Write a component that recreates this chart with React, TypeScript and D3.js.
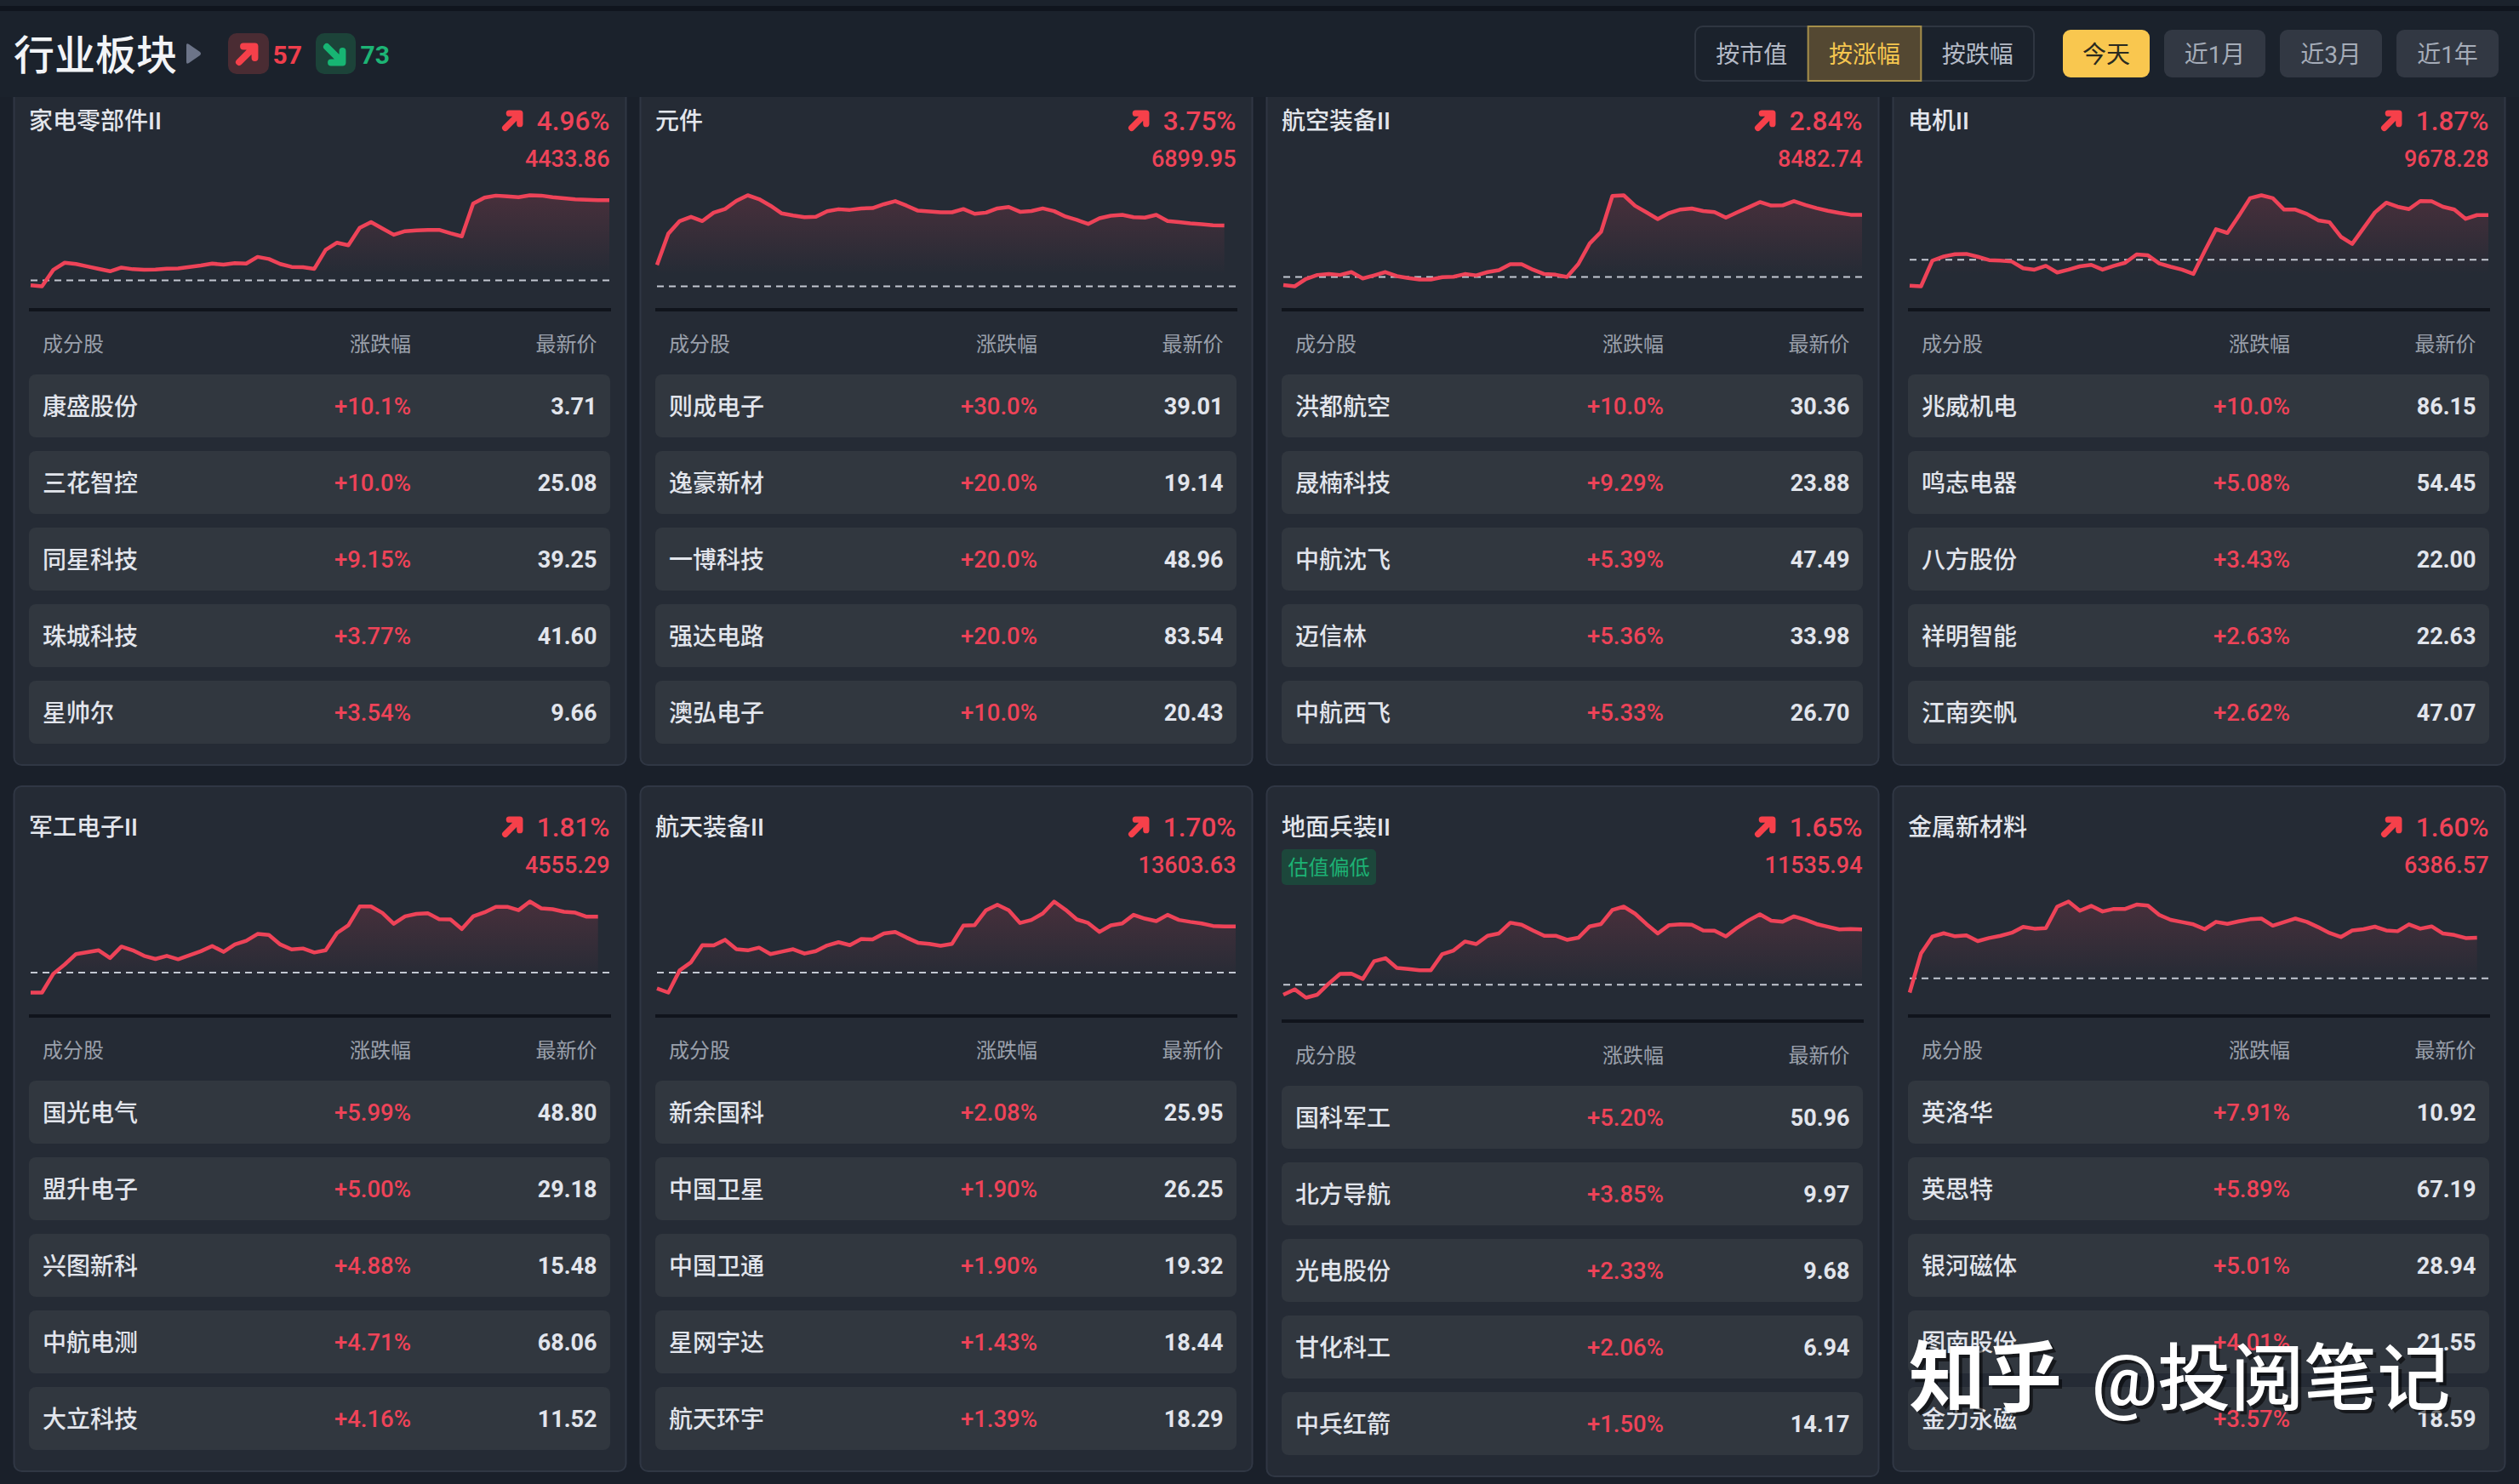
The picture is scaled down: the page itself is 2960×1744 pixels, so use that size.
import * as d3 from "d3";

const sectorNames = ["家电零部件II", "元件", "航空装备II", "电机II", "军工电子II", "航天装备II", "地面兵装II", "金属新材料"];
const sectorPcts = ["4.96%", "3.75%", "2.84%", "1.87%", "1.81%", "1.70%", "1.65%", "1.60%"];
const sectorLevels = ["4433.86", "6899.95", "8482.74", "9678.28", "4555.29", "13603.63", "11535.94", "6386.57"];
const sectorTags = ["", "", "", "", "", "", "估值偏低", ""];

const stockNames = [
  ["康盛股份", "三花智控", "同星科技", "珠城科技", "星帅尔"],
  ["则成电子", "逸豪新材", "一博科技", "强达电路", "澳弘电子"],
  ["洪都航空", "晟楠科技", "中航沈飞", "迈信林", "中航西飞"],
  ["兆威机电", "鸣志电器", "八方股份", "祥明智能", "江南奕帆"],
  ["国光电气", "盟升电子", "兴图新科", "中航电测", "大立科技"],
  ["新余国科", "中国卫星", "中国卫通", "星网宇达", "航天环宇"],
  ["国科军工", "北方导航", "光电股份", "甘化科工", "中兵红箭"],
  ["英洛华", "英思特", "银河磁体", "图南股份", "金力永磁"],
];
const stockPcts = [
  ["+10.1%", "+10.0%", "+9.15%", "+3.77%", "+3.54%"],
  ["+30.0%", "+20.0%", "+20.0%", "+20.0%", "+10.0%"],
  ["+10.0%", "+9.29%", "+5.39%", "+5.36%", "+5.33%"],
  ["+10.0%", "+5.08%", "+3.43%", "+2.63%", "+2.62%"],
  ["+5.99%", "+5.00%", "+4.88%", "+4.71%", "+4.16%"],
  ["+2.08%", "+1.90%", "+1.90%", "+1.43%", "+1.39%"],
  ["+5.20%", "+3.85%", "+2.33%", "+2.06%", "+1.50%"],
  ["+7.91%", "+5.89%", "+5.01%", "+4.01%", "+3.57%"],
];
const stockPrices = [
  ["3.71", "25.08", "39.25", "41.60", "9.66"],
  ["39.01", "19.14", "48.96", "83.54", "20.43"],
  ["30.36", "23.88", "47.49", "33.98", "26.70"],
  ["86.15", "54.45", "22.00", "22.63", "47.07"],
  ["48.80", "29.18", "15.48", "68.06", "11.52"],
  ["25.95", "26.25", "19.32", "18.44", "18.29"],
  ["50.96", "9.97", "9.68", "6.94", "14.17"],
  ["10.92", "67.19", "28.94", "21.55", "18.59"],
];

// intraday change in %
const intraday1 = [-0.30, -0.37, 0.65, 1.09, 1.01, 0.86, 0.71, 0.56, 0.79, 0.69, 0.65, 0.67, 0.72, 0.74, 0.83, 0.92, 1.04, 0.97, 1.06, 1.04, 1.45, 1.32, 1.01, 0.83, 0.81, 0.71, 1.89, 2.33, 2.17, 3.25, 3.60, 3.21, 2.82, 3.04, 3.09, 3.11, 3.12, 2.91, 2.72, 4.75, 5.12, 5.24, 5.19, 5.14, 5.26, 5.24, 5.14, 5.07, 5.01, 4.99, 4.96, 4.96];
const intraday2 = [1.32, 3.25, 4.03, 4.29, 4.03, 4.55, 4.77, 5.28, 5.62, 5.38, 4.98, 4.50, 4.37, 4.27, 4.29, 4.64, 4.76, 4.72, 4.81, 4.83, 5.07, 5.26, 4.98, 4.67, 4.62, 4.57, 4.57, 4.77, 4.48, 4.55, 4.81, 4.90, 4.60, 4.65, 4.81, 4.64, 4.31, 4.10, 3.85, 4.20, 4.36, 4.41, 4.27, 4.24, 4.41, 4.03, 3.96, 3.89, 3.84, 3.77, 3.75];
const intraday3 = [-0.37, -0.43, -0.09, 0.09, 0.13, 0.09, 0.22, -0.07, 0.07, 0.22, 0.04, -0.05, -0.12, -0.12, -0.01, 0.01, 0.13, 0.07, 0.22, 0.31, 0.58, 0.58, 0.33, 0.13, 0.10, 0.00, 0.59, 1.53, 2.06, 3.70, 3.73, 3.25, 2.95, 2.64, 2.92, 3.08, 3.13, 3.01, 2.96, 2.71, 2.95, 3.18, 3.42, 3.26, 3.27, 3.46, 3.29, 3.14, 3.02, 2.92, 2.84, 2.84];
const intraday4 = [-1.09, -1.12, -0.04, 0.13, 0.23, 0.24, 0.12, -0.02, -0.04, -0.08, -0.36, -0.42, -0.26, -0.54, -0.42, -0.28, -0.22, -0.42, -0.26, -0.13, 0.22, 0.18, -0.16, -0.30, -0.42, -0.60, 0.36, 1.28, 1.12, 1.83, 2.58, 2.70, 2.58, 2.10, 2.10, 1.92, 1.65, 1.57, 0.96, 0.66, 1.32, 1.98, 2.39, 2.22, 2.12, 2.46, 2.45, 2.22, 2.10, 1.71, 1.87, 1.87];
const intraday5 = [-0.65, -0.65, -0.04, 0.26, 0.60, 0.66, 0.72, 0.47, 0.84, 0.72, 0.54, 0.44, 0.54, 0.43, 0.56, 0.69, 0.86, 0.67, 0.91, 1.03, 1.25, 1.22, 0.91, 0.75, 0.78, 0.65, 0.72, 1.28, 1.53, 2.14, 2.14, 1.93, 1.58, 1.82, 1.90, 1.92, 1.73, 1.72, 1.41, 1.82, 1.95, 2.13, 2.13, 2.02, 2.30, 2.08, 2.05, 1.97, 1.94, 1.81, 1.81];
const intraday6 = [-0.59, -0.74, 0.08, 0.38, 1.01, 1.00, 1.21, 0.86, 0.82, 0.92, 0.68, 0.77, 0.86, 0.70, 0.79, 1.00, 1.12, 1.01, 1.24, 1.22, 1.44, 1.50, 1.29, 1.10, 1.06, 0.99, 1.06, 1.73, 1.75, 2.30, 2.50, 2.30, 1.83, 1.94, 2.18, 2.62, 2.32, 1.96, 1.83, 1.50, 1.74, 1.81, 2.13, 1.99, 1.90, 2.13, 1.94, 1.87, 1.81, 1.72, 1.70, 1.70];
const intraday7 = [-0.30, -0.14, -0.39, -0.30, 0.03, 0.32, 0.33, 0.17, 0.70, 0.79, 0.50, 0.47, 0.43, 0.43, 0.91, 1.02, 1.29, 1.21, 1.46, 1.53, 1.85, 1.79, 1.62, 1.46, 1.46, 1.34, 1.40, 1.74, 1.81, 2.23, 2.33, 2.12, 1.81, 1.53, 1.78, 1.80, 1.79, 1.62, 1.61, 1.44, 1.70, 1.92, 2.10, 1.91, 1.88, 2.04, 1.94, 1.81, 1.73, 1.65, 1.66, 1.65];
const intraday8 = [-0.56, 0.98, 1.65, 1.78, 1.66, 1.70, 1.47, 1.59, 1.68, 1.80, 2.03, 1.96, 1.98, 2.83, 3.03, 2.67, 2.86, 2.64, 2.74, 2.74, 2.91, 2.87, 2.50, 2.31, 2.22, 2.13, 1.94, 2.23, 2.15, 2.25, 2.33, 2.36, 2.08, 2.22, 2.36, 2.23, 2.02, 1.79, 1.63, 1.89, 1.94, 2.04, 1.89, 1.86, 2.13, 1.96, 2.05, 1.77, 1.71, 1.59, 1.60];
const intradaySeries = [intraday1, intraday2, intraday3, intraday4, intraday5, intraday6, intraday7, intraday8];

const tableHeads = ["成分股", "涨跌幅", "最新价"];
const sortTabs = ["按市值", "按涨幅", "按跌幅"];
const rangeTabs = ["今天", "近1月", "近3月", "近1年"];
const upCount = "57";
const downCount = "73";

const W = 2960;
const H = 1744;
const FONT = 'Roboto, "Noto Sans CJK SC", sans-serif';
const RED = "#ee4358";
const ARROW_RED = "#f6404a";
const GREEN = "#17b573";

const cardX = d3.scaleLinear().domain([0, 1]).range([16, 752]);
const rowOffset = d3.scaleLinear().domain([0, 1]).range([0, 830]);
const stockRowY = d3.scaleLinear().domain([0, 1]).range([440, 530]);
const slotX = d3.scaleLinear().domain([0, 51]).range([20, 700]);

function UpArrow({ x, y, size, color, flip = false }: { x: number; y: number; size: number; color: string; flip?: boolean }) {
  const k = size / 24;
  const t = flip ? `translate(${x},${y + size}) scale(${k},${-k})` : `translate(${x},${y}) scale(${k})`;
  return (
    <g transform={t}>
      <path d="M3.5,20.5 L17,7 M8,4 H20 V16" fill="none" stroke={color} strokeWidth={7} strokeLinecap="round" strokeLinejoin="round" />
    </g>
  );
}

function Card({ i }: { i: number }) {
  const col = i % 4;
  const row = Math.floor(i / 4);
  const x0 = cardX(col);
  const dy = rowOffset(row);
  const hasTag = sectorTags[i] !== "";
  const shift = hasTag ? 6 : 0;
  const values = intradaySeries[i];

  const extent = d3.extent([...values, 0]) as [number, number];
  const y = d3.scaleLinear().domain(extent).range([336.5 + dy + shift, 229.5 + dy + shift]);
  const line = d3
    .line<number>()
    .x((_, j) => slotX(j))
    .y((d) => y(d));
  const area = d3
    .area<number>()
    .x((_, j) => slotX(j))
    .y0(y(extent[0]))
    .y1((d) => y(d));
  const top = row === 0 ? 94 : 924;
  const bottom = (row === 0 ? 899 : 1729) + shift;
  const gradId = `fade${i}`;

  return (
    <g transform={`translate(${x0},0)`}>
      <rect x={0.5} y={top} width={719} height={bottom - top} rx={9} fill="#252b35" stroke="#303744" strokeWidth={2} />
      <text x={18} y={152 + dy} fontSize={28} fontWeight={500} fill="#e3e6ec">{sectorNames[i]}</text>
      <UpArrow x={574} y={129 + dy} size={25} color={ARROW_RED} />
      <text x={700.5} y={152.5 + dy} textAnchor="end" fontSize={31.5} fontWeight={500} fill={RED}>{sectorPcts[i]}</text>
      <text x={700.5} y={196 + dy} textAnchor="end" fontSize={27} fontWeight={500} fill={RED}>{sectorLevels[i]}</text>
      {hasTag && (
        <g>
          <rect x={18} y={998} width={111} height={42} rx={5} fill="#1c473b" />
          <text x={73.5} y={1028} textAnchor="middle" fontSize={24} fill="#1cb274">{sectorTags[i]}</text>
        </g>
      )}

      <defs>
        <linearGradient id={gradId} gradientUnits="userSpaceOnUse" x1={0} x2={0} y1={229 + dy + shift} y2={322 + dy + shift}>
          <stop offset="0%" stopColor="#f2455a" stopOpacity={0.17} />
          <stop offset="100%" stopColor="#f2455a" stopOpacity={0} />
        </linearGradient>
      </defs>
      <path d={area(values) ?? ""} fill={`url(#${gradId})`} />
      <line x1={slotX(0)} x2={slotX(51)} y1={y(0)} y2={y(0)} stroke="#c3c8d2" strokeWidth={2} strokeDasharray="8 6" />
      <path d={line(values) ?? ""} fill="none" stroke={RED} strokeWidth={4.5} strokeLinejoin="round" />
      <rect x={18} y={362 + dy + shift} width={684} height={4} fill="#10141c" />

      <text x={34} y={413 + dy + shift} fontSize={24} fill="#9aa0ab">{tableHeads[0]}</text>
      <text x={467} y={413 + dy + shift} textAnchor="end" fontSize={24} fill="#9aa0ab">{tableHeads[1]}</text>
      <text x={685.5} y={413 + dy + shift} textAnchor="end" fontSize={24} fill="#9aa0ab">{tableHeads[2]}</text>

      {stockNames[i].map((name, j) => {
        const ry = stockRowY(j) + dy + shift;
        return (
          <g key={name}>
            <rect x={18} y={ry} width={683} height={74} rx={8} fill="#31373f" />
            <text x={34} y={ry + 47.5} fontSize={28} fontWeight={500} fill="#e2e5ec">{name}</text>
            <text x={467} y={ry + 47} textAnchor="end" fontSize={27.5} fontWeight={500} fill={RED}>{stockPcts[i][j]}</text>
            <text x={685.5} y={ry + 47} textAnchor="end" fontSize={27} fontWeight={700} fill="#e2e5ec">{stockPrices[i][j]}</text>
          </g>
        );
      })}
    </g>
  );
}

export default function App() {
  const sortX = d3.scaleBand<number>().domain([0, 1, 2]).range([1992, 2390]);
  const rangeX = [2424, 2543, 2679, 2816];
  const rangeW = [102, 119, 120, 120];

  return (
    <svg width={W} height={H} viewBox={`0 0 ${W} ${H}`} fontFamily={FONT} style={{ position: "absolute", left: 0, top: 0 }}>
      <rect width={W} height={H} fill="#1a202a" />
      {sectorNames.map((_, i) => (
        <Card key={i} i={i} />
      ))}

      {/* sticky header sits over the first row */}
      <rect width={W} height={114} fill="#1b222c" />
      <rect y={7} width={W} height={6} fill="#10151e" />
      <text x={16} y={82} fontSize={48} fontWeight={500} fill="#f2f4f7">行业板块</text>
      <path d="M219,53 L219,73 Q219,76 222,74 L235,65 Q237,63 235,61 L222,52 Q219,50 219,53 Z" fill="#6c7488" />
      <rect x={268} y={39} width={48} height={48} rx={10} fill="#4a2c33" />
      <UpArrow x={277} y={50} size={27} color={ARROW_RED} />
      <text x={320.5} y={75} fontSize={30} fontWeight={700} fill="#ef3e4c">{upCount}</text>
      <rect x={371} y={39} width={47} height={48} rx={10} fill="#1c4339" />
      <UpArrow x={380} y={51} size={27} color={GREEN} flip />
      <text x={423.5} y={75} fontSize={30} fontWeight={700} fill="#1db475">{downCount}</text>

      <rect x={1992} y={31} width={398} height={64} rx={9} fill="#1b222c" stroke="#2f3641" strokeWidth={2} />
      <rect x={sortX(1)!} y={31} width={sortX.bandwidth()} height={64} fill="#544832" stroke="#a58f4a" strokeWidth={2} />
      {sortTabs.map((t, i) => (
        <text key={t} x={sortX(i)! + sortX.bandwidth() / 2} y={74} textAnchor="middle" fontSize={28} fill={i === 1 ? "#f6c64f" : "#b4bac6"}>{t}</text>
      ))}
      {rangeTabs.map((t, i) => (
        <g key={t}>
          <rect x={rangeX[i]} y={35} width={rangeW[i]} height={56} rx={9} fill={i === 0 ? "#f9c74f" : "#323843"} />
          <text x={rangeX[i] + rangeW[i] / 2} y={74} textAnchor="middle" fontSize={28} fill={i === 0 ? "#2a2a20" : "#a5acb8"}>{t}</text>
        </g>
      ))}

      {/* site watermark */}
      <g>
        <text x={2247} y={1655} fontSize={90} fontWeight={700} fill="rgba(0,0,0,0.55)">知乎</text>
        <text x={2462} y={1655} fontSize={86} fontWeight={500} fill="rgba(0,0,0,0.55)">@投阅笔记</text>
        <text x={2243} y={1651} fontSize={90} fontWeight={700} fill="#ffffff">知乎</text>
        <text x={2458} y={1651} fontSize={86} fontWeight={500} fill="#ffffff">@投阅笔记</text>
      </g>
    </svg>
  );
}
